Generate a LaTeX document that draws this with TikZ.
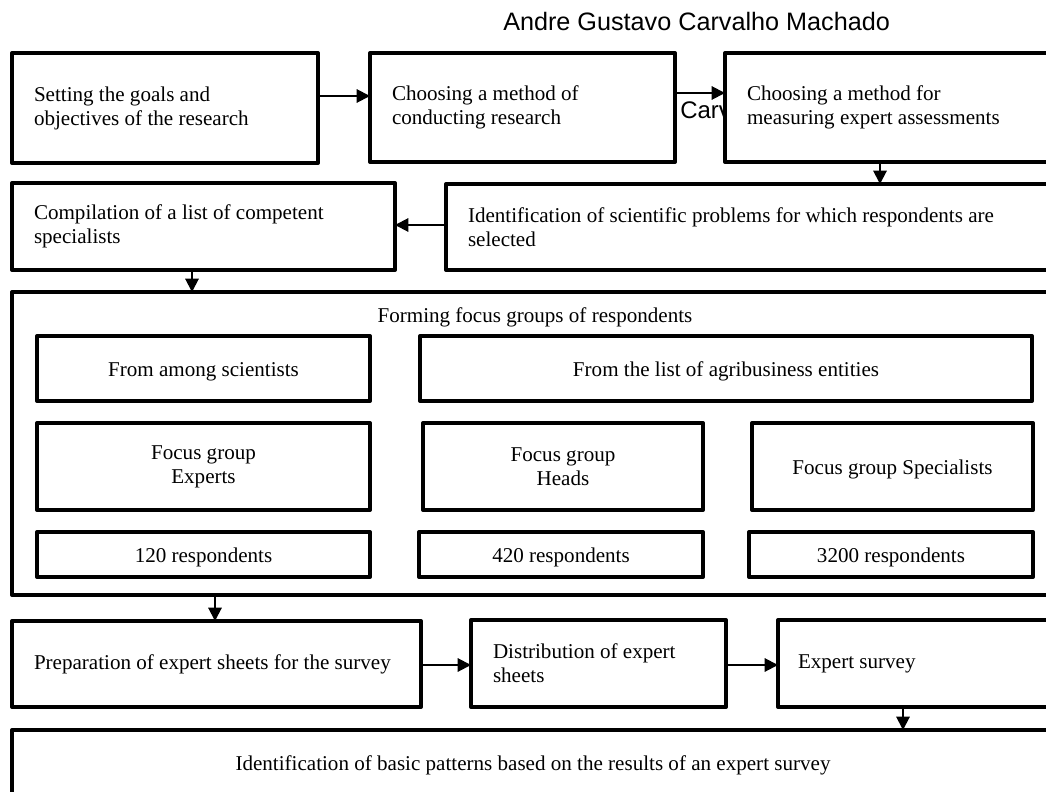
\documentclass[tikz,border=0pt]{standalone}
\usepackage{fontspec}
\setmainfont{Liberation Serif}
\newfontfamily\headfont{Liberation Sans}
\usetikzlibrary{arrows.meta}
\newcommand{\stepfont}{\fontsize{15.8pt}{18pt}\selectfont}
\tikzset{
  stepbox/.style={draw, line width=3pt, line join=round, fill=white, anchor=north west, outer sep=0pt, inner xsep=16.5pt, inner ysep=0pt, align=flush left, font=\stepfont},
  groupbox/.style={draw, line width=3pt, line join=round, fill=white, anchor=north west, outer sep=0pt, inner sep=0pt, align=center, font=\stepfont},
  onerow/.style={text height=12.2pt, text depth=0.8pt},
  flow/.style={line width=1.5pt, -{Triangle[length=10pt,width=10pt]}},
}

\begin{document}
\begin{tikzpicture}[x=0.75pt,y=0.75pt,yscale=-1,xscale=1]
\useasboundingbox (0,0) rectangle (1046,792);
\clip (0,0) rectangle (1046,792);

% Text Node
\node [anchor=base west, inner sep=0pt, font=\headfont\fontsize{18.9pt}{22pt}\selectfont] (author) at (503,31) {Andre Gustavo Carvalho Machado};
% Text Node
\node [anchor=base west, inner sep=0pt, font=\headfont\fontsize{18pt}{22pt}\selectfont] (authorcut) at (680,118) {Carv};

%Shape: Rectangle
\node [stepbox, minimum width=229.5pt, minimum height=82.5pt, text width=196.5pt] (goals) at (12,53) {Setting the goals and\\objectives of the research};
%Shape: Rectangle
\node [stepbox, minimum width=228.75pt, minimum height=81.75pt, text width=195.75pt] (method) at (370,53) {Choosing a method of\\conducting research};
%Shape: Rectangle
\node [stepbox, minimum width=249.75pt, minimum height=81.75pt, text width=216.75pt] (measure) at (725,53) {Choosing a method for\\measuring expert assessments};
%Shape: Rectangle
\node [stepbox, minimum width=287.25pt, minimum height=65.25pt, text width=254.25pt] (specialists) at (12,183) {Compilation of a list of competent\\specialists};
%Shape: Rectangle
\node [stepbox, minimum width=459pt, minimum height=64.5pt, text width=426pt] (problems) at (446,184) {Identification of scientific problems for which respondents are\\selected};

%Shape: Rectangle
\node [groupbox, minimum width=784.5pt, minimum height=227.25pt] (forming) at (12,292) {};
% Text Node
\node [anchor=base, inner sep=0pt, font=\stepfont] (formingtitle) at (535,322) {Forming focus groups of respondents};
%Shape: Rectangle
\node [groupbox, onerow, minimum width=249.75pt, minimum height=48.75pt] (scientists) at (37,336) {From among scientists};
%Shape: Rectangle
\node [groupbox, onerow, minimum width=459pt, minimum height=48.75pt] (agribusiness) at (420,336) {From the list of agribusiness entities};
%Shape: Rectangle
\node [groupbox, minimum width=249.75pt, minimum height=65.25pt] (experts) at (37,423) {Focus group\\Experts};
%Shape: Rectangle
\node [groupbox, minimum width=210pt, minimum height=65.25pt] (heads) at (423,423) {Focus group\\Heads};
%Shape: Rectangle
\node [groupbox, onerow, minimum width=210.75pt, minimum height=65.25pt] (specgroup) at (752,423) {Focus group Specialists};
%Shape: Rectangle
\node [groupbox, onerow, minimum width=249.75pt, minimum height=33.75pt] (expertsnum) at (37,532) {120 respondents};
%Shape: Rectangle
\node [groupbox, onerow, minimum width=213pt, minimum height=33.75pt] (headsnum) at (419,532) {420 respondents};
%Shape: Rectangle
\node [groupbox, onerow, minimum width=213pt, minimum height=33.75pt] (specnum) at (749,532) {3200 respondents};

%Shape: Rectangle
\node [stepbox, minimum width=306.75pt, minimum height=64.5pt, text width=273.75pt] (sheets) at (12,621) {Preparation of expert sheets for the survey};
%Shape: Rectangle
\node [stepbox, minimum width=191.25pt, minimum height=65.25pt, text width=158.25pt] (distribution) at (471,620) {Distribution of expert\\sheets};
%Shape: Rectangle
\node [stepbox, inner xsep=15pt, minimum width=210pt, minimum height=65.25pt, text width=180pt] (survey) at (778,620) {Expert survey};
%Shape: Rectangle
\node [groupbox, onerow, minimum width=781.5pt, minimum height=49.5pt] (patterns) at (12,730) {Identification of basic patterns based on the results of an expert survey};

% Arrows
\coordinate (rowgoals) at (0,96);
\coordinate (rowmethod) at (0,93);
\coordinate (rowproblems) at (0,225);
\coordinate (rowsheets) at (0,665);
\coordinate (colmeasure) at (880,0);
\coordinate (colspecialists) at (192,0);
\coordinate (colforming) at (215,0);
\coordinate (colsurvey) at (903,0);
\draw [flow] (goals.east |- rowgoals) -- (method.west |- rowgoals);
\draw [flow] (method.east |- rowmethod) -- (measure.west |- rowmethod);
\draw [flow] (measure.south -| colmeasure) -- (problems.north -| colmeasure);
\draw [flow] (problems.west |- rowproblems) -- (specialists.east |- rowproblems);
\draw [flow] (specialists.south -| colspecialists) -- (forming.north -| colspecialists);
\draw [flow] (forming.south -| colforming) -- (sheets.north -| colforming);
\draw [flow] (sheets.east |- rowsheets) -- (distribution.west |- rowsheets);
\draw [flow] (distribution.east |- rowsheets) -- (survey.west |- rowsheets);
\draw [flow] (survey.south -| colsurvey) -- (patterns.north -| colsurvey);

\end{tikzpicture}
\end{document}
